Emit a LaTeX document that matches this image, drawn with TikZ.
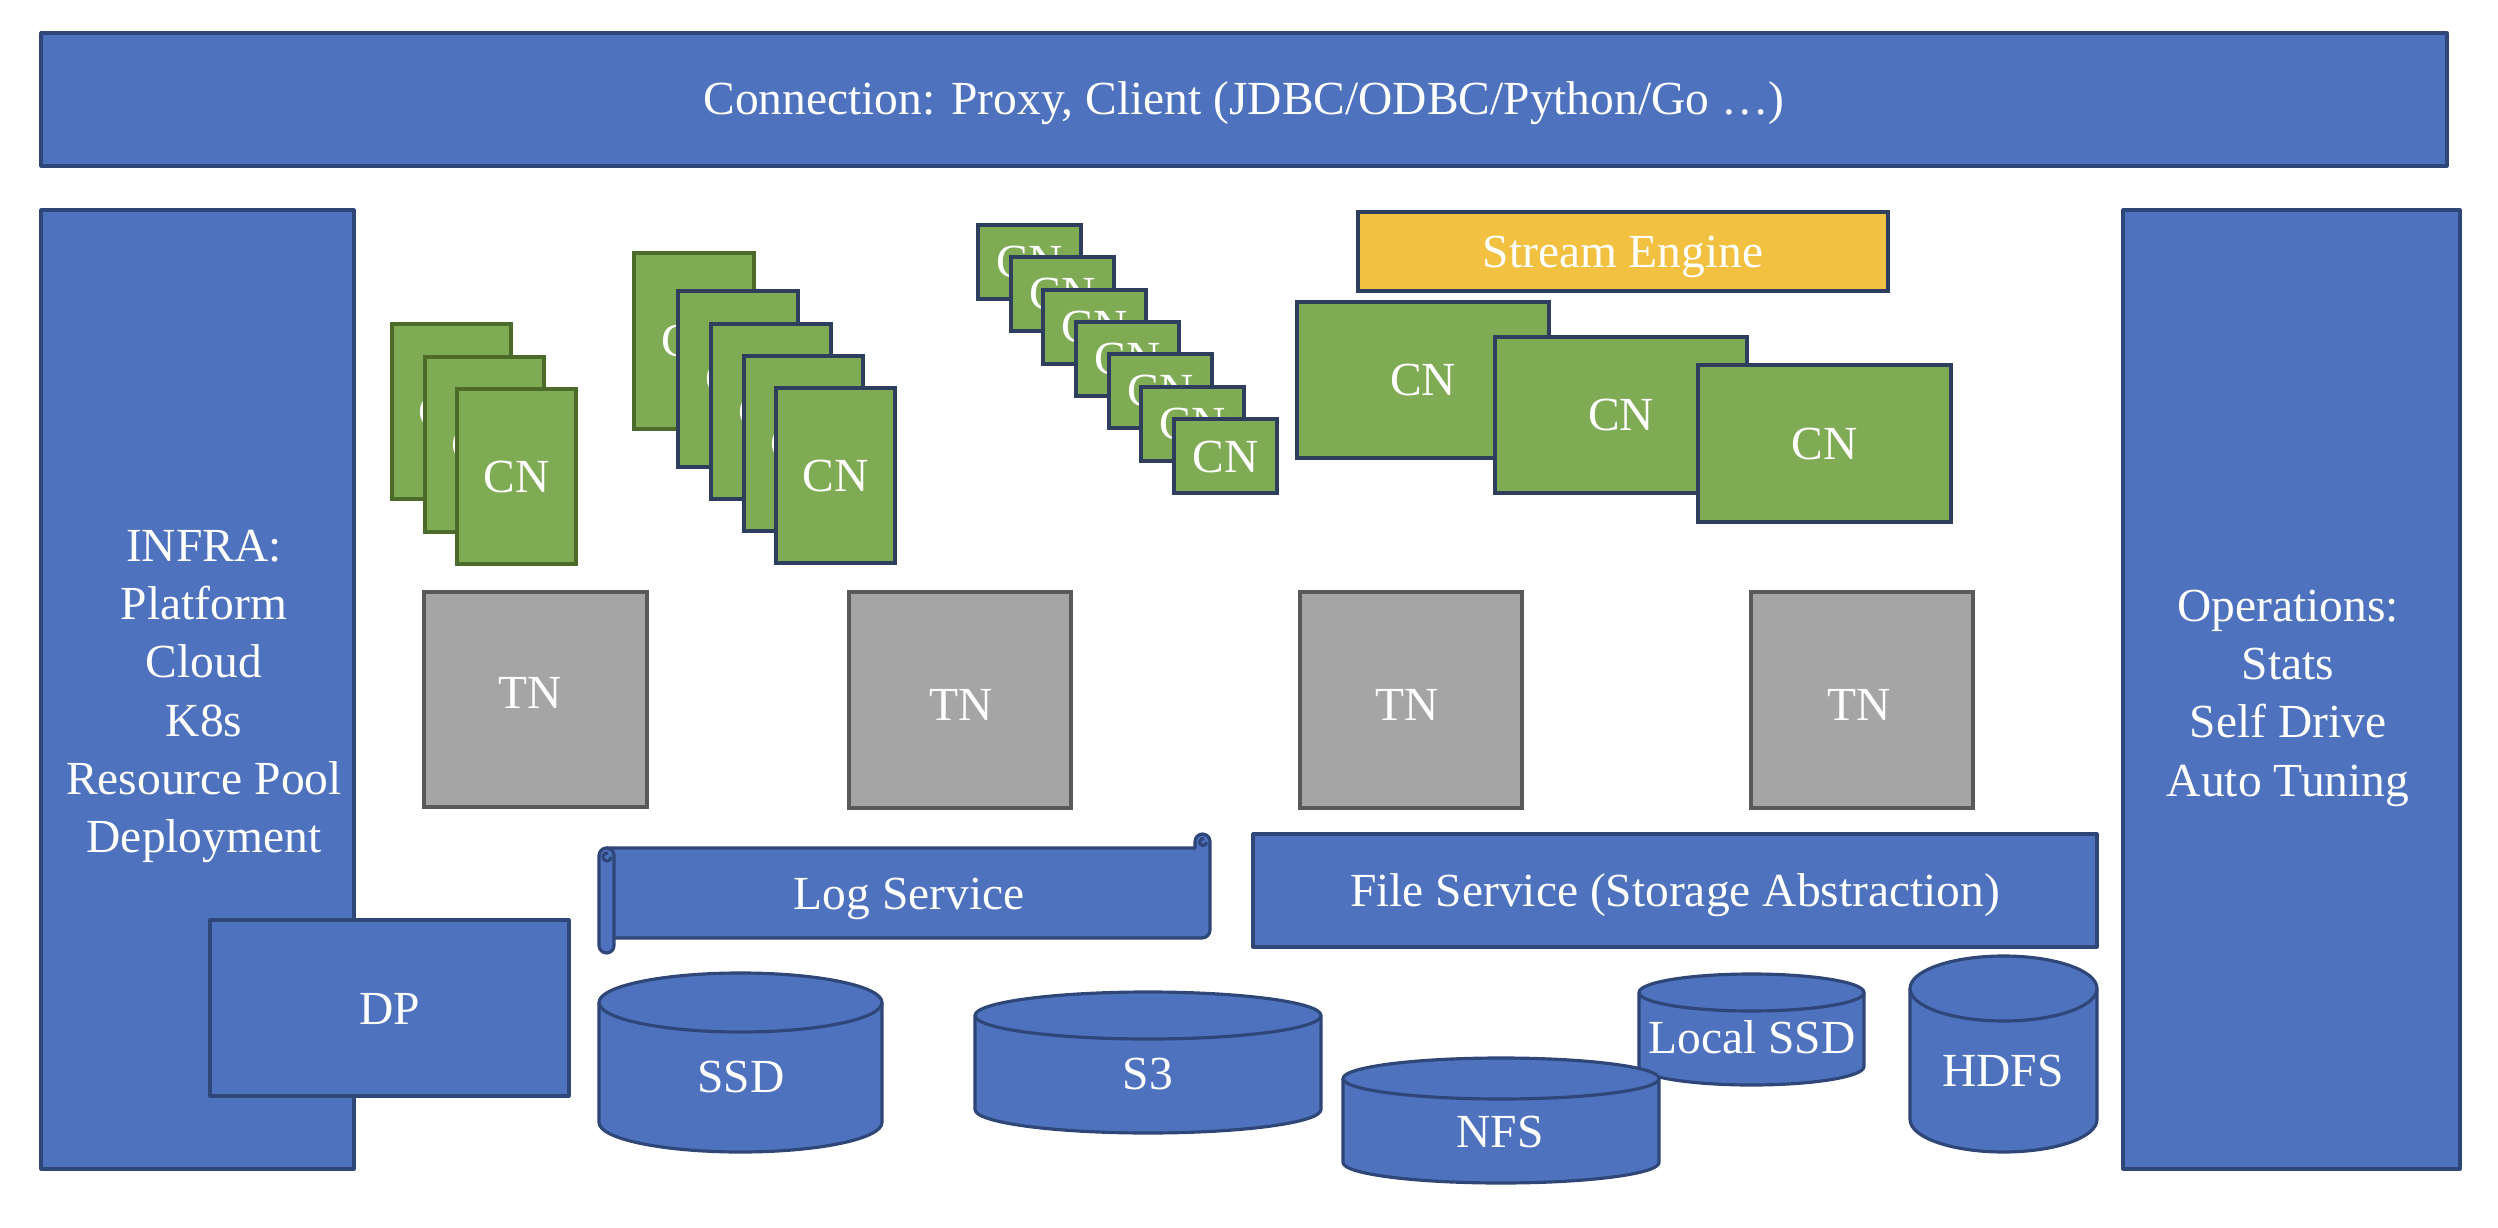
\documentclass[tikz,border=0pt]{standalone}
\usepackage{fontspec}
\setmainfont{Liberation Serif}
\definecolor{blueF}{HTML}{4E72BE}
\definecolor{blueD}{HTML}{2F4678}
\definecolor{greenF}{HTML}{7FAB55}
\definecolor{greenD}{HTML}{4C6B2B}
\definecolor{navyD}{HTML}{2E3F5E}
\definecolor{grayF}{HTML}{A5A5A5}
\definecolor{grayD}{HTML}{595959}
\definecolor{yellowF}{HTML}{F2C142}
\tikzset{
  bluebox/.style={fill=blueF, draw=blueD, line width=0.9pt, line join=round},
  cngreen/.style={fill=greenF, draw=greenD, line width=0.9pt},
  cnnavy/.style={fill=greenF, draw=navyD, line width=0.9pt},
  tnbox/.style={fill=grayF, draw=grayD, line width=0.9pt},
  sebox/.style={fill=yellowF, draw=navyD, line width=0.9pt},
  lbl/.style={text=white, font=\fontsize{13.5}{16.6}\selectfont, inner sep=0pt, anchor=base, align=center},
  curl/.style={draw=blueD, line width=0.9pt},
}
\newcommand\cnbox[6]{% name, style, x1, y1, x2, y2
  \path[#2] (#3,#4) rectangle (#5,#6);
  \node[lbl] (#1) at ({(#3+#5)/2},{(#4+#6)/2+16}) {CN};
}
\newcommand\cylshape[9]{% name, xl, xr, yt, yb, ry, tx, ty, text
  \pgfmathsetmacro\myrx{(#3-#2)/2}
  \path[bluebox] (#2,#4+#6) -- (#2,#5-#6)
     arc[start angle=180, end angle=0, x radius=\myrx, y radius=#6]
     -- (#3,#4+#6)
     arc[start angle=0, end angle=-180, x radius=\myrx, y radius=#6] -- cycle;
  \draw[bluebox, fill=none] (#2,#4+#6)
     arc[start angle=180, end angle=0, x radius=\myrx, y radius=#6];
  \node[lbl] (#1) at (#7,#8) {#9};
}
\begin{document}
\begin{tikzpicture}[x=0.01cm, y=-0.01cm]
\useasboundingbox (0,0) rectangle (2498,1228);

% Connection bar
\path[bluebox] (41,33) rectangle (2447,166);
\node[lbl] (conn) at (1244,115) {Connection: Proxy, Client (JDBC/ODBC/Python/Go …)};

% INFRA and Operations columns
\path[bluebox] (41,210) rectangle (354,1169);
\node[lbl, anchor=north] (infra) at (204,529) {INFRA:\\Platform\\Cloud\\K8s\\Resource Pool\\Deployment};
\path[bluebox] (2123,210) rectangle (2460,1169);
\node[lbl, anchor=north] (ops) at (2288,589) {Operations:\\Stats\\Self Drive\\Auto Tuning};

% DP
\path[bluebox] (210,920) rectangle (569,1096);
\node[lbl] (dp) at (390,1024) {DP};

% CN group 1
\cnbox{ca1}{cngreen}{392}{324}{511}{499}
\cnbox{ca2}{cngreen}{425}{357}{544}{532}
\cnbox{ca3}{cngreen}{457}{389}{576}{564}

% CN group 2
\cnbox{cb1}{cngreen}{634}{253}{754}{429}
\cnbox{cb2}{cnnavy}{678}{291}{798}{467}
\cnbox{cb3}{cnnavy}{711}{324}{831}{499}
\cnbox{cb4}{cnnavy}{744}{356}{863}{531}
\cnbox{cb5}{cnnavy}{776}{388}{895}{563}

% CN group 3
\cnbox{cc1}{cnnavy}{978}{225}{1081}{299}
\cnbox{cc2}{cnnavy}{1011}{257}{1114}{331}
\cnbox{cc3}{cnnavy}{1043}{290}{1146}{364}
\cnbox{cc4}{cnnavy}{1076}{322}{1179}{396}
\cnbox{cc5}{cnnavy}{1109}{354}{1212}{428}
\cnbox{cc6}{cnnavy}{1141}{387}{1244}{461}
\cnbox{cc7}{cnnavy}{1174}{419}{1277}{493}

% Stream engine and big CNs
\path[sebox] (1358,212) rectangle (1888,291);
\node[lbl] (se) at (1623,268) {Stream Engine};
\cnbox{cd1}{cnnavy}{1297}{302}{1549}{458}
\cnbox{cd2}{cnnavy}{1495}{337}{1747}{493}
\cnbox{cd3}{cnnavy}{1698}{365}{1951}{522}

% TN row
\path[tnbox] (424,592) rectangle (647,807);
\node[lbl] (tn1) at (530,708) {TN};
\path[tnbox] (849,592) rectangle (1071,808);
\node[lbl] (tn2) at (961,720) {TN};
\path[tnbox] (1300,592) rectangle (1522,808);
\node[lbl] (tn3) at (1407,720) {TN};
\path[tnbox] (1751,592) rectangle (1973,808);
\node[lbl] (tn4) at (1859,720) {TN};

% Log Service scroll
\path[bluebox] (606,848) -- (1195,848) -- (1195,841.5)
  arc[start angle=180, end angle=360, radius=7.5] -- (1210,930)
  arc[start angle=0, end angle=90, radius=8] -- (606,938) -- cycle;
\draw[curl] (1206.5,842) arc[start angle=0, end angle=290, radius=3.5];
\path[bluebox] (599,855.5) -- (599,945.5)
  arc[start angle=180, end angle=0, radius=7.5] -- (614,855.5)
  arc[start angle=0, end angle=-180, radius=7.5] -- cycle;
\draw[curl] (611,857) arc[start angle=0, end angle=290, radius=4];
\node[lbl] (log) at (909,909) {Log Service};

% File Service
\path[bluebox] (1253,834) rectangle (2097,947);
\node[lbl] (fs) at (1675,906) {File Service (Storage Abstraction)};

% Storage cylinders
\cylshape{ssd}{599}{882}{973}{1152}{29.5}{741}{1092}{SSD}
\cylshape{s3}{975}{1321}{992}{1133}{23.5}{1148}{1089}{S3}
\cylshape{lssd}{1639}{1864}{974}{1085}{18.5}{1752}{1053}{Local SSD}
\cylshape{nfs}{1343}{1659}{1058}{1183}{20.5}{1500}{1147}{NFS}
\cylshape{hdfs}{1910}{2097}{956}{1152}{32.5}{2003}{1086}{HDFS}
\end{tikzpicture}
\end{document}
